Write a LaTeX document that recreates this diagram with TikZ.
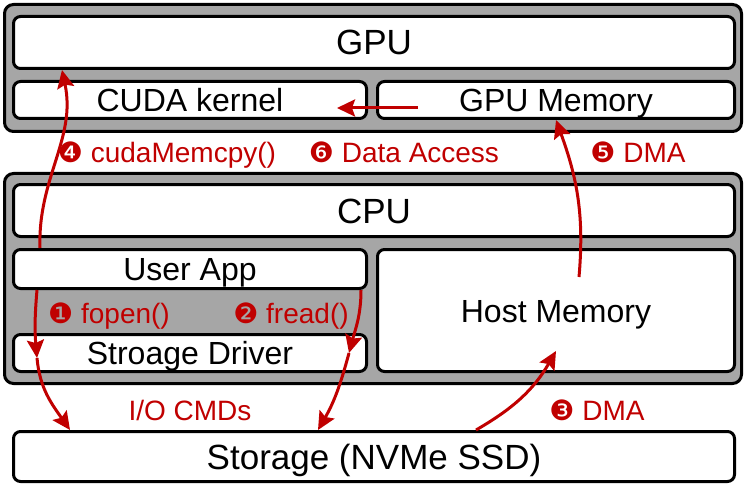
\documentclass[tikz,border=0pt]{standalone}
\usepackage{fontspec}
\setmainfont{Liberation Sans}
\newfontfamily\dingfont{DejaVu Sans}
\usetikzlibrary{arrows.meta,calc}
\definecolor{hwgray}{RGB}{166,166,166}
\definecolor{flowred}{RGB}{192,0,0}
\tikzstyle{outer} = [draw, line width=3pt, fill=hwgray, rounded corners=9pt, inner sep=0pt]
\tikzstyle{unit} = [draw, line width=3pt, fill=white, rounded corners=7pt, inner sep=0pt, text height=23pt, text depth=0pt, font=\fontsize{32}{36}\selectfont]
\tikzstyle{bigunit} = [unit, text height=25pt, font=\fontsize{35}{40}\selectfont]
\tikzstyle{flow} = [line width=3pt, color=flowred, -{Stealth[length=18pt,width=17pt,inset=3pt]}]
\tikzstyle{flowlabel} = [text=flowred, inner sep=0pt, text height=20pt, text depth=0pt, font=\fontsize{28}{32}\selectfont]
\newcommand{\stepnum}[1]{{\dingfont #1}}

\begin{document}
\begin{tikzpicture}[x=1pt, y=-1pt]
    \useasboundingbox (0,0) rectangle (746,489);

    % GPU side
    \node[outer, minimum width=737, minimum height=127] (gpubox) at (373,68) {};
    \node[bigunit, minimum width=721, minimum height=52] (gpu) at (374,42.5) {GPU};
    \node[unit, minimum width=353, minimum height=37] (cuda) at (190,100) {CUDA kernel};
    \node[unit, minimum width=357, minimum height=37] (gmem) at (556,100) {GPU Memory};

    % CPU side
    \node[outer, minimum width=737, minimum height=210] (cpubox) at (373,278.5) {};
    \node[bigunit, minimum width=721, minimum height=52] (cpu) at (374,210.5) {CPU};
    \node[unit, minimum width=353, minimum height=39] (app) at (190,269) {User App};
    \node[unit, minimum width=357, minimum height=122] (hmem) at (556,310.5) {Host Memory};
    \node[unit, minimum width=353, minimum height=37] (drv) at (190,353) {Stroage Driver};

    % Storage
    \node[bigunit, minimum width=721, minimum height=50] (ssd) at (374,456.5) {Storage (NVMe SSD)};

    % Labels
    \node[flowlabel] (l4) at (167,153) {\stepnum{❹} cudaMemcpy()};
    \node[flowlabel] (l6) at (404,153) {\stepnum{❻} Data Access};
    \node[flowlabel] (l5) at (638,153) {\stepnum{❺} DMA};
    \node[flowlabel] (l1) at (109,313) {\stepnum{❶} fopen()};
    \node[flowlabel] (l2) at (291,313) {\stepnum{❷} fread()};
    \node[flowlabel] (lio) at (190,410) {I/O CMDs};
    \node[flowlabel] (l3) at (597,410) {\stepnum{❸} DMA};

    % Mid points inside the driver
    \coordinate (drvin) at ($(drv.west)+(25,5)$);
    \coordinate (drvout) at ($(drv.east)+(-19,0)$);

    % Flows
    \draw[flow] ($(app.south west)+(25,0)$) to[out=-95, in=95] (drvin);
    \draw[flow] (drvin) to[out=-85, in=125] ($(ssd.north west)+(58,0)$);
    \draw[flow] ($(app.south east)+(-7,0)$) to[out=-90, in=75] (drvout);
    \draw[flow] (drvout) to[out=-105, in=60] ($(ssd.north west)+(306,0)$);
    \draw[flow] ($(ssd.north west)+(464,0)$) to[out=30, in=-120] ($(hmem.south)+(0,-22)$);
    \draw[flow] ($(app.north west)+(28,0)$) to[out=92, in=-78] ($(gpu.south west)+(50,0)$);
    \draw[flow] ($(hmem.center)+(23,-33.5)$) to[out=85, in=-70] (gmem.south);
    \draw[flow] ($(gmem.west)+(42,8)$) -- ($(cuda.east)+(-31,8)$);
\end{tikzpicture}
\end{document}
